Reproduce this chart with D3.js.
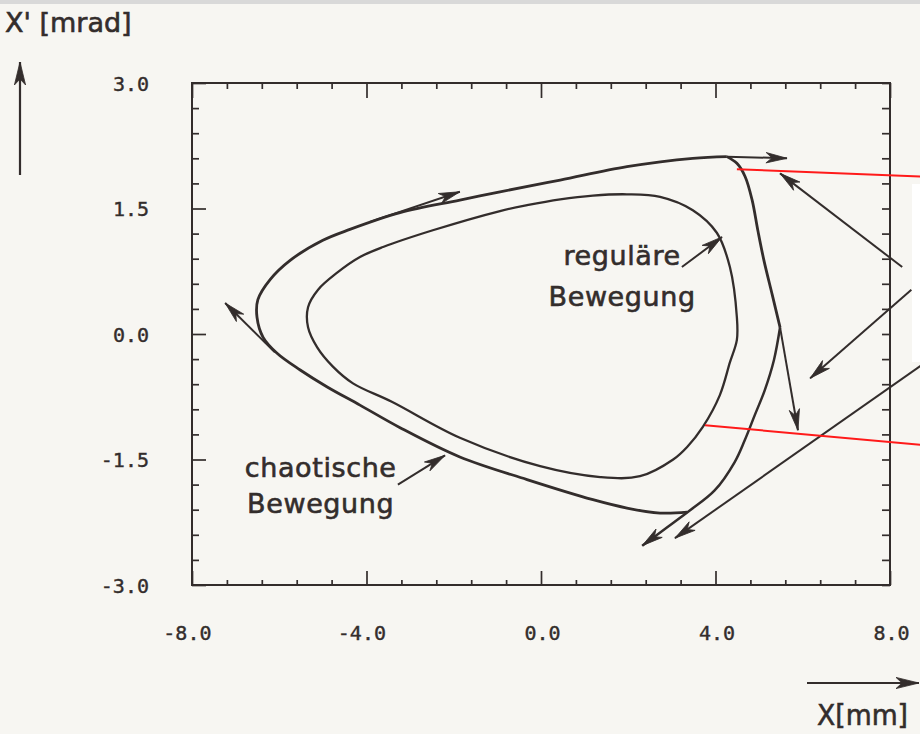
<!DOCTYPE html>
<html>
<head>
<meta charset="utf-8">
<script src="https://cdn.jsdelivr.net/npm/d3@7"></script>
<style>
  html, body { margin: 0; padding: 0; background: #f7f6f2; }
  svg { display: block; }
</style>
</head>
<body>
<script>
// axis ticks and labels
const xMajor = [-8, -4, 0, 4, 8];
const xLabels = ["-8.0", "-4.0", "0.0", "4.0", "8.0"];
const yMajor = [3, 1.5, 0, -1.5, -3];
const yLabels = ["3.0", "1.5", "0.0", "-1.5", "-3.0"];
const xMinor = d3.range(-8, 8.001, 0.8);
const yMinor = d3.range(-3, 3.001, 0.3);

// outer trajectory (chaotische Bewegung), top -> left -> bottom
const outerX = [4.26, 3.48, 1.97, 0.44, -0.94, -1.86, -3.23, -4.38, -5.00, -5.75, -6.21, -6.49, -6.51, -6.37, -6.05, -5.52, -4.91, -4.15, -3.23, -1.86, -0.32, 1.19, 1.97, 2.73, 3.35];
const outerY = [2.12, 2.10, 2.00, 1.84, 1.70, 1.60, 1.45, 1.25, 1.12, 0.88, 0.65, 0.41, 0.20, -0.04, -0.23, -0.43, -0.63, -0.85, -1.12, -1.47, -1.74, -1.98, -2.08, -2.14, -2.13];

// right branch of the separatrix, top corner down to the fork
const branchX = [4.26, 4.49, 4.68, 4.84, 4.97, 5.11, 5.30, 5.48];
const branchY = [2.12, 2.04, 1.88, 1.60, 1.24, 0.88, 0.47, 0.08];

// from the fork down-left to the arrow tip
const forkX = [5.48, 5.34, 5.13, 4.90, 4.67, 4.44, 3.98, 3.41, 2.84, 2.32];
const forkY = [0.08, -0.31, -0.67, -0.97, -1.27, -1.53, -1.87, -2.11, -2.33, -2.53];

// inner closed orbit (reguläre Bewegung)
const innerX = [-0.94, -0.32, 0.44, 1.19, 1.97, 2.73, 3.48, 4.03, 4.33, 4.49, 4.49, 4.33, 4.10, 3.71, 3.35, 3.03, 2.27, 1.36, -0.02, -1.86, -3.42, -4.31, -4.77, -5.13, -5.34, -5.34, -5.11, -4.68, -4.15, -3.62, -2.48];
const innerY = [1.47, 1.54, 1.61, 1.655, 1.67, 1.64, 1.48, 1.21, 0.80, 0.20, -0.07, -0.34, -0.73, -1.11, -1.35, -1.50, -1.70, -1.71, -1.58, -1.24, -0.81, -0.59, -0.39, -0.16, 0.08, 0.32, 0.53, 0.73, 0.92, 1.04, 1.24];

// arrows: [x0, y0, x1 (tip), y1 (tip)]
const arrowsIn = [
  [4.26, 2.12, 5.64, 2.10],
  [-3.92, 1.34, -1.86, 1.70],
  [-6.10, -0.22, -7.24, 0.37],
  [5.48, 0.08, 5.89, -1.15],
  [3.23, 0.80, 4.15, 1.16],
  [-3.28, -1.80, -2.20, -1.45]
];
const arrowsOut = [
  [8.28, 0.80, 5.48, 1.92],
  [8.49, 0.53, 6.17, -0.53],
  [9.03, -0.26, 3.07, -2.44]
];
const redLines = [
  [4.49, 1.97, 8.80, 1.88],
  [3.76, -1.09, 8.80, -1.33]
];

const W = 920, H = 734;
const ink = "#332d2c";

const x = d3.scaleLinear().domain([-8, 8]).range([192, 890]);
const y = d3.scaleLinear().domain([-3, 3]).range([585, 83]);

const svg = d3.select("body").append("svg")
  .attr("width", W).attr("height", H);

svg.append("rect").attr("width", W).attr("height", H).attr("fill", "#f7f6f2");
svg.append("rect").attr("width", W).attr("height", 4).attr("fill", "#d9d9d9");

const defs = svg.append("defs");
function marker(id, d) {
  defs.append("marker")
    .attr("id", id)
    .attr("markerUnits", "userSpaceOnUse")
    .attr("markerWidth", 30).attr("markerHeight", 16)
    .attr("viewBox", "-26 -8 30 16")
    .attr("refX", 0).attr("refY", 0)
    .attr("orient", "auto")
    .append("path")
    .attr("d", d)
    .attr("fill", ink).attr("stroke", ink).attr("stroke-width", 0.8)
    .attr("stroke-linejoin", "round");
}
marker("head", "M0,0 L-21,-5.2 L-15,0 L-21,5.2 Z");
marker("headBig", "M0,0 L-23,-5.6 L-17,0 L-23,5.6 Z");

// frame
svg.append("rect")
  .attr("x", x(-8)).attr("y", y(3))
  .attr("width", x(8) - x(-8)).attr("height", y(-3) - y(3))
  .attr("fill", "none").attr("stroke", ink).attr("stroke-width", 2);

const isMajor = (v, step) => Math.abs(v / step - Math.round(v / step)) < 1e-6;

function tickAxis(axis, tr, vals) {
  const g = svg.append("g").attr("transform", tr)
    .call(axis.tickValues(vals).tickSizeOuter(0).tickFormat(""));
  g.select(".domain").remove();
  g.selectAll(".tick line")
    .attr("stroke", ink).attr("stroke-width", 1.7);
  return g;
}

// inward ticks on all four sides
function drawTicks(g, orient, step, minorLen, majorLen) {
  g.selectAll(".tick line").each(function(d) {
    const len = isMajor(d, step) ? majorLen : minorLen;
    const l = d3.select(this);
    if (orient === "left") l.attr("x2", len);
    if (orient === "right") l.attr("x2", -len);
    if (orient === "top") l.attr("y2", len);
    if (orient === "bottom") l.attr("y2", -len);
  });
}

drawTicks(tickAxis(d3.axisLeft(y), `translate(${x(-8)},0)`, yMinor), "left", 1.5, 7, 14);
drawTicks(tickAxis(d3.axisRight(y), `translate(${x(8)},0)`, yMinor), "right", 1.5, 8, 8);
drawTicks(tickAxis(d3.axisTop(x), `translate(0,${y(3)})`, xMinor), "top", 4, 6, 15);
drawTicks(tickAxis(d3.axisBottom(x), `translate(0,${y(-3)})`, xMinor), "bottom", 4, 5, 14);

// tick labels
const monoFont = "'DejaVu Sans Mono', monospace";
const yl = svg.append("g").attr("transform", `translate(${x(-8)},0)`)
  .call(d3.axisLeft(y).tickValues(yMajor).tickSize(0).tickPadding(43)
    .tickFormat((d, i) => yLabels[i]));
yl.select(".domain").remove();
yl.selectAll("text")
  .attr("font-family", monoFont)
  .attr("font-size", 20).attr("fill", ink)
  .attr("stroke", ink).attr("stroke-width", 0.4)
  .attr("dy", "0.36em");

const xl = svg.append("g").attr("transform", `translate(0,${y(-3)})`)
  .call(d3.axisBottom(x).tickValues(xMajor).tickSize(0)
    .tickFormat((d, i) => xLabels[i]));
xl.select(".domain").remove();
xl.selectAll("text")
  .attr("font-family", monoFont)
  .attr("font-size", 20).attr("fill", ink)
  .attr("stroke", ink).attr("stroke-width", 0.4)
  .attr("text-anchor", "end").attr("dx", 19)
  .attr("y", 55).attr("dy", 0);

// curves
const line = d3.line().x(d => x(d[0])).y(d => y(d[1])).curve(d3.curveCatmullRom.alpha(0.5));
const closed = d3.line().x(d => x(d[0])).y(d => y(d[1])).curve(d3.curveCatmullRomClosed.alpha(0.5));

const zip = (a, b) => a.map((v, i) => [v, b[i]]);

svg.append("path").datum(zip(innerX, innerY))
  .attr("d", closed).attr("fill", "none")
  .attr("stroke", ink).attr("stroke-width", 2.3);

svg.append("path").datum(zip(outerX, outerY))
  .attr("d", line).attr("fill", "none")
  .attr("stroke", ink).attr("stroke-width", 2.8);

svg.append("path").datum(zip(branchX, branchY))
  .attr("d", line).attr("fill", "none")
  .attr("stroke", ink).attr("stroke-width", 2.8);

svg.append("path").datum(zip(forkX, forkY))
  .attr("d", line).attr("fill", "none")
  .attr("stroke", ink).attr("stroke-width", 2.5)
  .attr("marker-end", "url(#head)");

svg.selectAll(".arr").data(arrowsIn.concat(arrowsOut)).enter()
  .append("line")
  .attr("x1", d => x(d[0])).attr("y1", d => y(d[1]))
  .attr("x2", d => x(d[2])).attr("y2", d => y(d[3]))
  .attr("stroke", ink).attr("stroke-width", 2)
  .attr("marker-end", "url(#head)");

// white patch at the right edge (covered note)
svg.append("rect")
  .attr("x", 912).attr("y", 184).attr("width", 8).attr("height", 178)
  .attr("fill", "#ffffff");

// red marker lines
svg.selectAll(".red").data(redLines).enter()
  .append("line")
  .attr("x1", d => x(d[0])).attr("y1", d => y(d[1]))
  .attr("x2", d => x(d[2])).attr("y2", d => y(d[3]))
  .attr("stroke", "#ff1a1a").attr("stroke-width", 2);

// labels in the plot
const labelFont = "'DejaVu Sans', sans-serif";
const notes = [
  { t: "reguläre", x: 1.86, y: 0.82 },
  { t: "Bewegung", x: 1.86, y: 0.34 },
  { t: "chaotische", x: -5.05, y: -1.71 },
  { t: "Bewegung", x: -5.05, y: -2.14 }
];
svg.selectAll(".note").data(notes).enter()
  .append("text")
  .attr("x", d => x(d.x)).attr("y", d => y(d.y))
  .attr("text-anchor", "middle")
  .attr("font-family", labelFont).attr("font-size", 27)
  .attr("letter-spacing", 0.6)
  .attr("fill", ink).attr("stroke", ink).attr("stroke-width", 0.6)
  .text(d => d.t);

// axis titles with arrows
svg.append("text")
  .attr("x", 5).attr("y", 32)
  .attr("font-family", labelFont).attr("font-size", 27)
  .attr("fill", ink).attr("stroke", ink).attr("stroke-width", 0.6)
  .text("X' [mrad]");
svg.append("line")
  .attr("x1", 20).attr("y1", 175).attr("x2", 20).attr("y2", 62)
  .attr("stroke", ink).attr("stroke-width", 2.2)
  .attr("marker-end", "url(#headBig)");

svg.append("text")
  .attr("x", 817).attr("y", 725)
  .attr("font-family", labelFont).attr("font-size", 29)
  .attr("fill", ink).attr("stroke", ink).attr("stroke-width", 0.6)
  .attr("textLength", 91).attr("lengthAdjust", "spacingAndGlyphs")
  .text("X[mm]");
svg.append("line")
  .attr("x1", 807).attr("y1", 683).attr("x2", 919).attr("y2", 683)
  .attr("stroke", ink).attr("stroke-width", 2.2)
  .attr("marker-end", "url(#headBig)");
</script>
</body>
</html>
